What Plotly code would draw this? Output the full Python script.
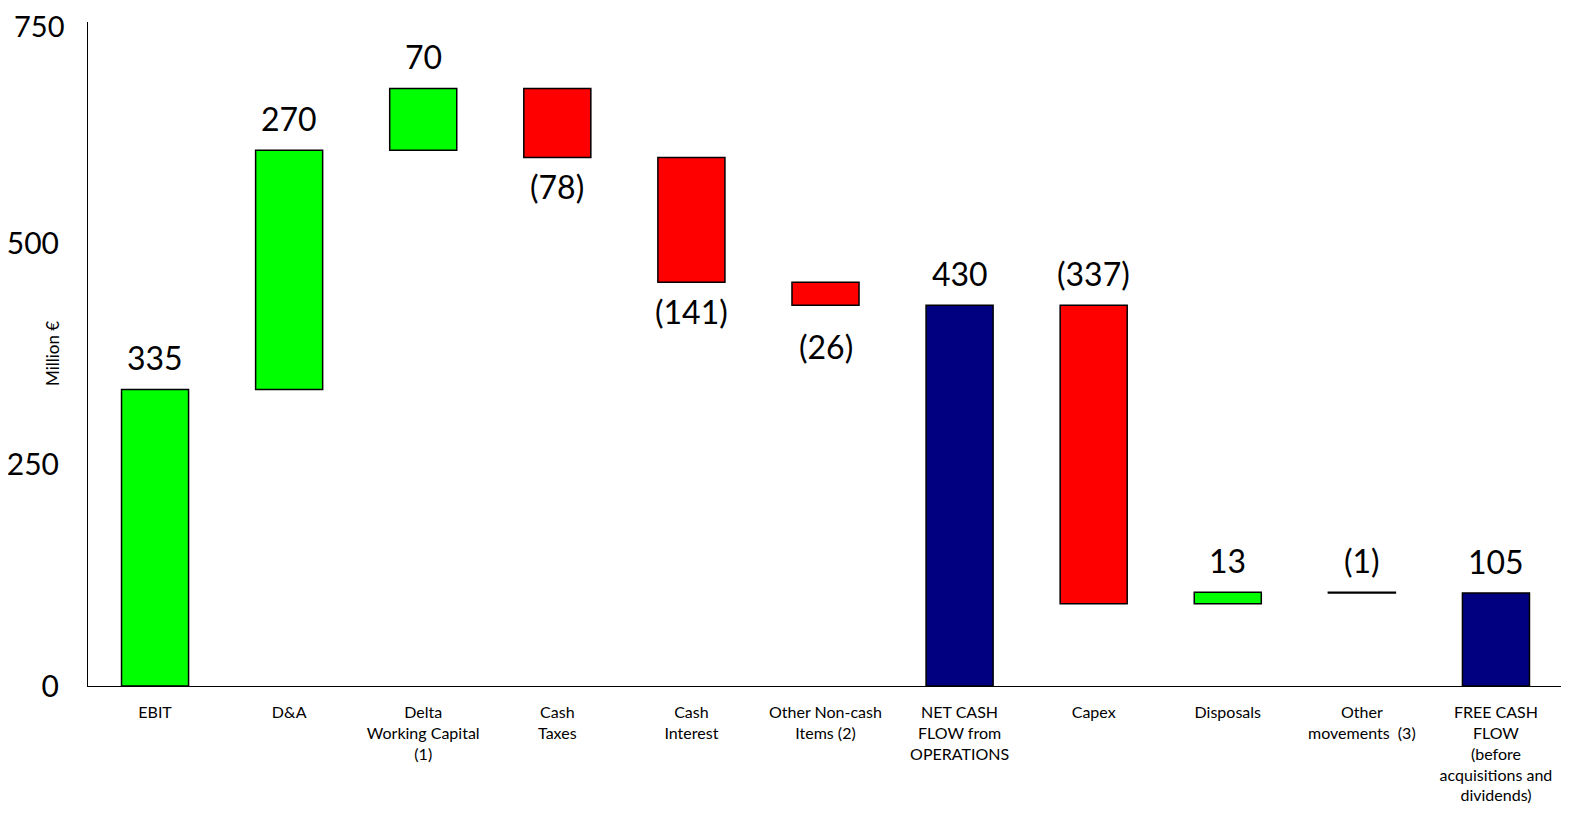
import plotly.graph_objects as go

cats = ["EBIT", "D&A", "Delta<br>Working Capital<br>(1)", "Cash<br>Taxes", "Cash<br>Interest",
        "Other Non-cash<br>Items (2)", "NET CASH<br>FLOW from<br>OPERATIONS", "Capex", "Disposals",
        "Other<br>movements  (3)", "FREE CASH<br>FLOW<br>(before<br>acquisitions and<br>dividends)"]
values = [335, 270, 70, -78, -141, -26, 430, -337, 13, -1, 105]
kinds = ["d", "d", "d", "d", "d", "d", "t", "d", "d", "d", "t"]
labels = ["335", "270", "70", "(78)", "(141)", "(26)", "430", "(337)", "13", "(1)", "105"]
label_above = [True, True, True, False, False, False, True, True, True, True, True]
yticks = [0, 250, 500, 750]

bases, heights, colors = [], [], []
run = 0
for v, k in zip(values, kinds):
    if k == "t":
        bases.append(0); heights.append(v); colors.append("#000080"); run = v
    else:
        bases.append(run); heights.append(v)
        colors.append("#00FF00" if v > 0 else "#FF0000"); run += v

x = list(range(len(cats)))
fig = go.Figure(go.Bar(x=x, y=heights, base=bases, width=0.5,
                       marker=dict(color=colors, line=dict(color="black", width=1.5))))
for i in x:
    top = max(bases[i], bases[i] + heights[i])
    bot = min(bases[i], bases[i] + heights[i])
    if label_above[i]:
        fig.add_annotation(x=i, y=top, text=labels[i], showarrow=False, yanchor="bottom", yshift=10,
                           font=dict(size=32, color="black"))
    else:
        fig.add_annotation(x=i, y=bot, text=labels[i], showarrow=False, yanchor="top",
                           yshift=-8 if i != 5 else -20, font=dict(size=32, color="black"))
fig.add_annotation(xref="paper", yref="paper", x=-36/1475, y=0.5, text="Million €", textangle=-90,
                   showarrow=False, font=dict(size=17, color="black"), xanchor="center")
# top tick label drawn as annotation so it is not clipped at the paper edge
fig.add_annotation(xref="paper", yref="y", x=-22/1475, y=yticks[-1], text=str(yticks[-1]),
                   showarrow=False, xanchor="right", yanchor="middle", yshift=-3,
                   font=dict(size=29, color="black"))

fig.update_layout(
    width=1561, height=810, plot_bgcolor="white", paper_bgcolor="white",
    margin=dict(l=80, r=6, t=14, b=132), showlegend=False,
    font=dict(family="Lato, DejaVu Sans, sans-serif", color="black"),
    xaxis=dict(tickmode="array", tickvals=x, ticktext=cats, range=[-0.5, 10.5], automargin=False,
               showline=True, linecolor="black", ticks="", tickfont=dict(size=16),
               ticklabelstandoff=12),
    yaxis=dict(range=[0, 750], tickvals=yticks[:-1], showgrid=False, zeroline=False,
               automargin=False, ticklabelstandoff=22,
               showline=True, linecolor="black", tickfont=dict(size=30)),
)
fig.write_html("out.html")
